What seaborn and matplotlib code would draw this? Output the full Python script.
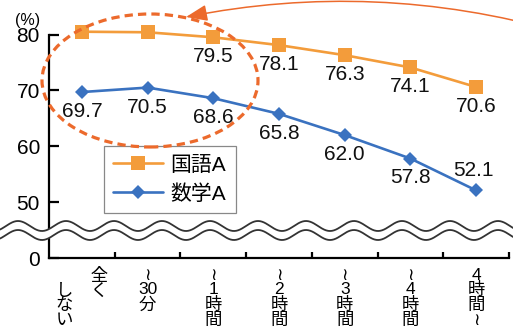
import numpy as np
import pandas as pd
import matplotlib
matplotlib.use('Agg')
import matplotlib.pyplot as plt
import seaborn as sns
from matplotlib.patches import Ellipse, FancyArrowPatch, Polygon
from matplotlib.lines import Line2D

# ---- data ----
categories = ['全くしない', '〜30分', '〜1時間', '〜2時間', '〜3時間', '〜4時間', '4時間〜']
tick_labels = ['　　全\nし　く\nな　　\nい　　', '≀\n30\n分', '≀\n1\n時\n間', '≀\n2\n時\n間',
               '≀\n3\n時\n間', '≀\n4\n時\n間', '4\n時\n間\n≀']
kokugo = [80.5, 80.4, 79.5, 78.1, 76.3, 74.1, 70.6]
sugaku = [69.7, 70.5, 68.6, 65.8, 62.0, 57.8, 52.1]
series_names = ['国語A', '数学A']
ytick_values = [40, 50, 60, 70, 80]
ytick_labels = ['0', '50', '60', '70', '80']

ORANGE = '#F39C3B'
BLUE = '#3A72C0'
RED = '#EC6A2C'

sns.set_theme(style='white')
plt.rcParams['font.family'] = ['Liberation Sans', 'Noto Sans CJK JP', 'DejaVu Sans']
plt.rcParams['text.color'] = 'black'

W, H = 513, 329
fig = plt.figure(figsize=(W / 100, H / 100), dpi=100)
ax = fig.add_axes([49 / W, 1 - 258 / H, 460 / W, (258 - 34.5) / H])

df = pd.DataFrame({
    'pos': list(range(len(categories))) * 2,
    'value': kokugo + sugaku,
    'series': [series_names[0]] * len(kokugo) + [series_names[1]] * len(sugaku),
})

sns.lineplot(data=df[df.series == series_names[0]], x='pos', y='value', ax=ax,
             color=ORANGE, marker='s', markersize=9.4, markeredgewidth=0, lw=1.9,
             label=series_names[0], clip_on=False, zorder=3)
sns.lineplot(data=df[df.series == series_names[1]], x='pos', y='value', ax=ax,
             color=BLUE, marker='D', markersize=7.6, markeredgewidth=0, lw=1.9,
             label=series_names[1], clip_on=False, zorder=3)

for i, v in enumerate(kokugo):
    ax.annotate(f'{v:.1f}', (i, v), xytext=(0, -14), textcoords='offset points',
                ha='center', va='center', fontsize=15, color='#111')
for i, v in enumerate(sugaku):
    dy = 14 if i == len(sugaku) - 1 else -14
    ax.annotate(f'{v:.1f}', (i, v), xytext=(-2 if dy > 0 else 0, dy), textcoords='offset points',
                ha='center', va='center', fontsize=15, color='#111')

ax.set_xlim(-0.5, len(categories) - 0.5)
ax.set_ylim(40, 80)
ax.set_xlabel('')
ax.set_ylabel('')
ax.set_xticks(range(len(categories)))
ax.set_xticklabels(tick_labels, fontsize=12.5, linespacing=0.98, va='top')
ax.set_xticks(np.arange(0.5, len(categories), 1), minor=True)
ax.tick_params(axis='x', which='major', length=0, pad=7, labelcolor='black')
ax.tick_params(axis='x', which='minor', length=4.3, width=1.6, direction='in',
               color='black', bottom=True)
ax.set_yticks(ytick_values)
ax.set_yticklabels(ytick_labels, fontsize=15)
ax.tick_params(axis='y', length=7.5, width=1.6, direction='in', pad=6.5, left=True,
               color='black', labelcolor='black')
for s in ['top', 'right']:
    ax.spines[s].set_visible(False)
for s in ['left', 'bottom']:
    ax.spines[s].set_color('black')
    ax.spines[s].set_linewidth(1.6)

leg = ax.legend(loc='lower left', bbox_to_anchor=((104 - 49) / 460, (258 - 213) / 223.5),
                borderaxespad=0, fontsize=15, frameon=True, fancybox=False,
                handlelength=2.4, handletextpad=0.35, labelspacing=0.45, borderpad=0.45)
leg.get_frame().set_edgecolor('#888888')
leg.get_frame().set_linewidth(0.9)
leg.get_frame().set_alpha(1)

# axis break waves
xs = np.linspace(0, W, 800)
up = 226 - 5 * np.cos(2 * np.pi * (xs - 210) / 48)
lo = 235 - 5 * np.cos(2 * np.pi * (xs - 210) / 48)
poly = np.vstack([np.column_stack([xs / W, 1 - up / H]),
                  np.column_stack([xs[::-1] / W, 1 - lo[::-1] / H])])
fig.add_artist(Polygon(poly, closed=True, transform=fig.transFigure, facecolor='white',
                       edgecolor='none', zorder=5))
for yy in (up, lo):
    fig.add_artist(Line2D(xs / W, 1 - yy / H, transform=fig.transFigure, color='#333333',
                          lw=1.3, zorder=6))

# dashed ellipse
fig.add_artist(Ellipse((150 / W, 1 - 80.5 / H), 216 / W, 133 / H, transform=fig.transFigure,
                       fill=False, edgecolor=RED, lw=2.3, ls=(0, (2.6, 1.6)), zorder=7))
# curved arrow
fig.add_artist(FancyArrowPatch(posA=(560 / W, 1 - 32 / H), posB=(186 / W, 1 - 17 / H),
                               transform=fig.transFigure,
                               arrowstyle='-|>,head_length=1.3,head_width=0.5',
                               connectionstyle='arc3,rad=0.12', mutation_scale=10,
                               color=RED, lw=1.1, shrinkA=0, shrinkB=0, zorder=7))

fig.text(28 / W, 1 - 20 / H, '(%)', ha='center', va='center', fontsize=11.5, color='black')

fig.savefig('out.png', dpi=100, facecolor='white')
